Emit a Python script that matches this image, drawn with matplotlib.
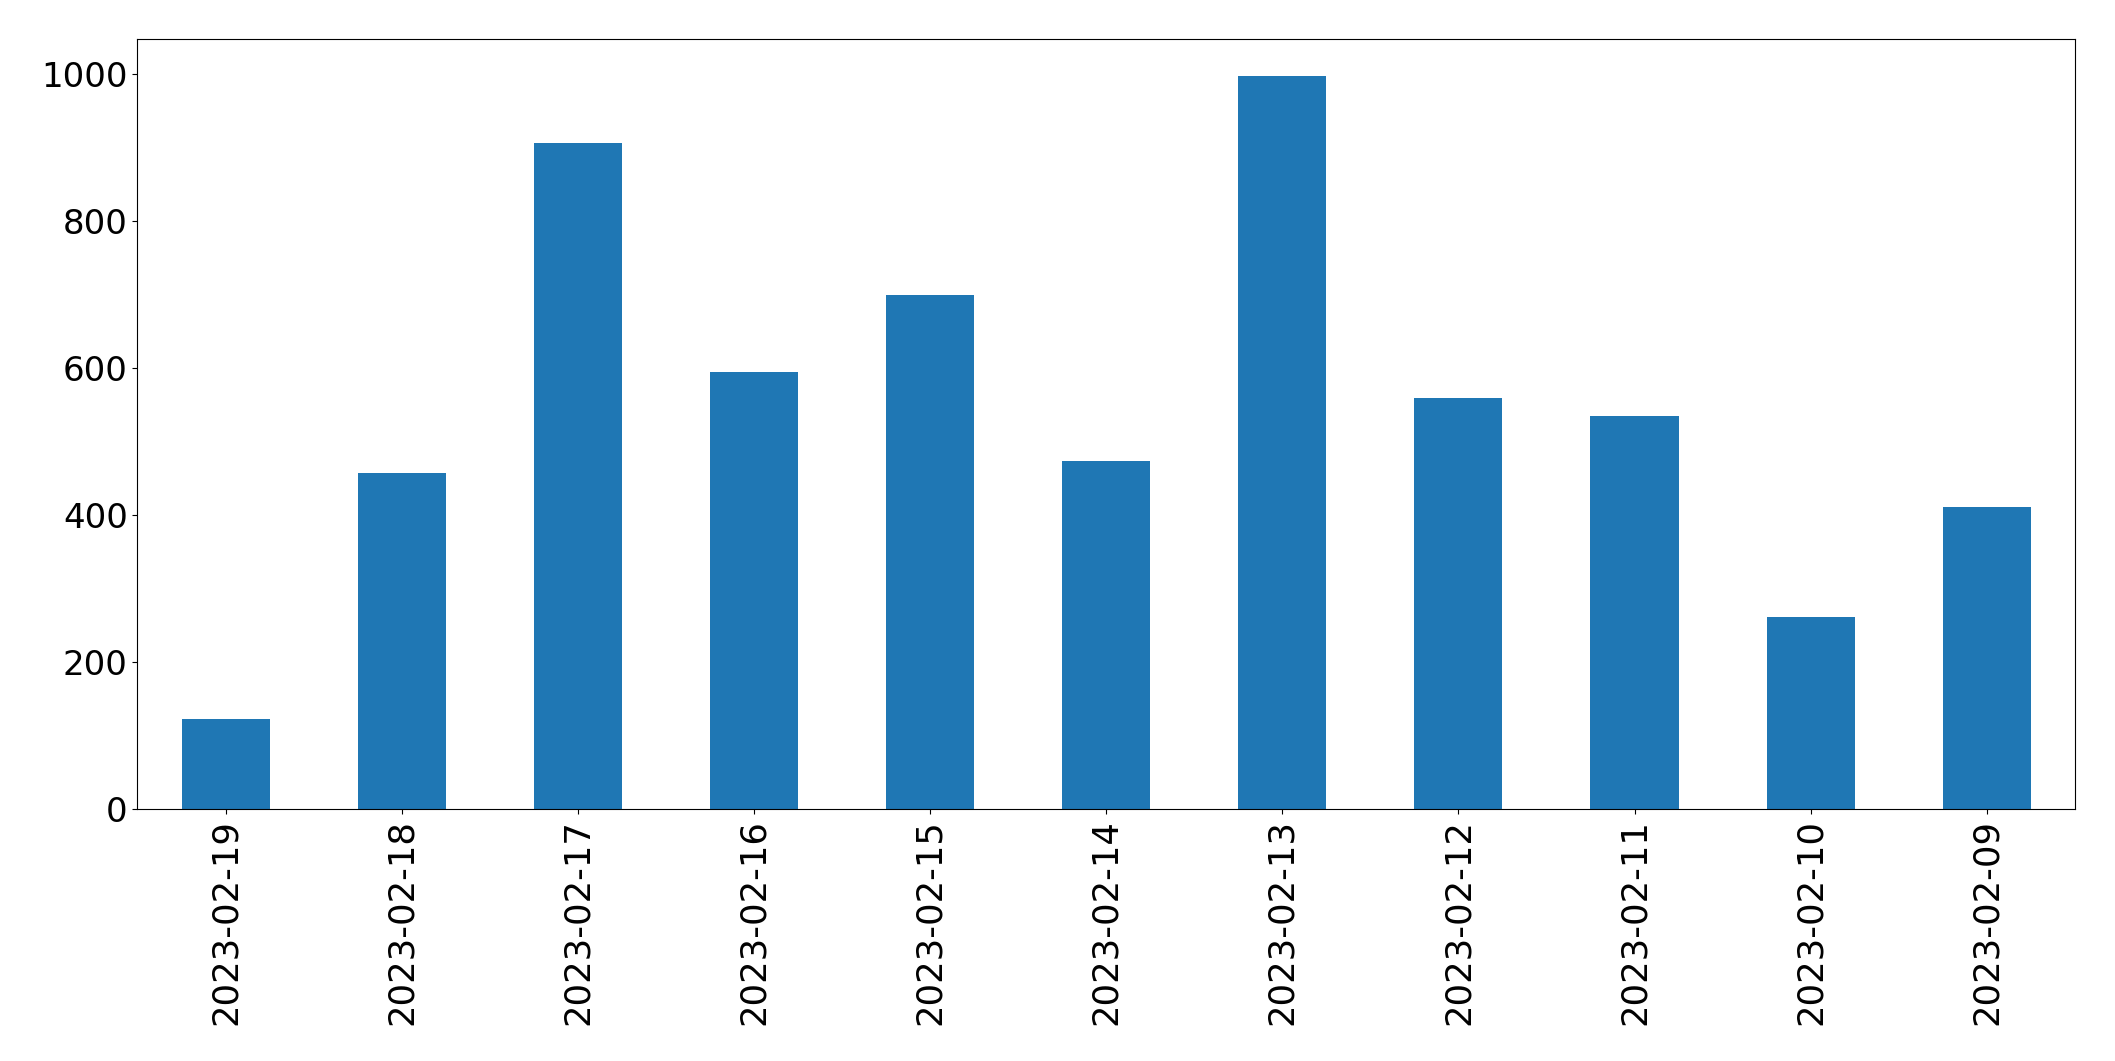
import matplotlib
matplotlib.use("Agg")
import matplotlib.pyplot as plt

# daily counts, newest first (as in the original)
dates = ["2023-02-19", "2023-02-18", "2023-02-17", "2023-02-16", "2023-02-15",
         "2023-02-14", "2023-02-13", "2023-02-12", "2023-02-11", "2023-02-10",
         "2023-02-09"]
counts = [122, 458, 907, 595, 700, 474, 998, 560, 535, 262, 411]

fig, ax = plt.subplots(figsize=(21.15, 10.61), dpi=100)
fig.subplots_adjust(left=0.065, right=0.981, top=0.963, bottom=0.2375)

x = list(range(len(dates)))
ax.bar(x, counts, width=0.5, color="#1f77b4")
ax.set_xticks(x)
ax.set_xticklabels(dates, rotation=90)
ax.set_xlim(-0.5, len(dates) - 0.5)
ax.tick_params(axis="x", labelsize=25.5)
ax.tick_params(axis="y", labelsize=24.5)

plt.savefig("out.png", dpi=100)
